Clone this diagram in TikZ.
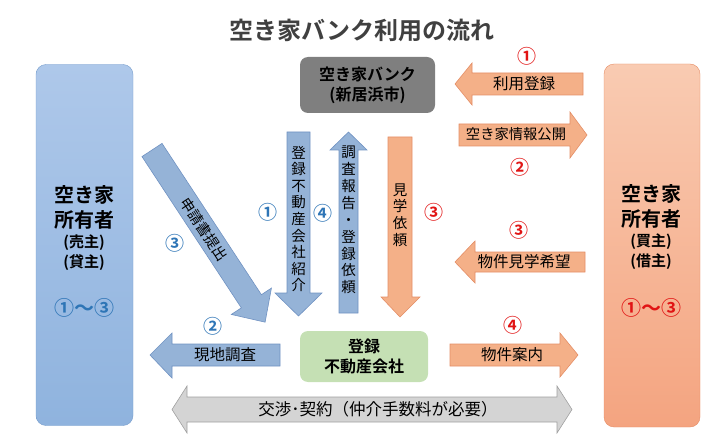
\documentclass[tikz,border=0pt]{standalone}
\usepackage{fontspec}
\setmainfont{Noto Sans CJK JP}[BoldFont={Noto Sans CJK JP Bold}]
\definecolor{ctitle}{RGB}{64,64,64}
\definecolor{cblue}{RGB}{46,117,182}
\definecolor{cred}{RGB}{225,20,20}
\definecolor{arblue}{RGB}{149,179,215}
\definecolor{arblueline}{RGB}{112,146,194}
\definecolor{arsalmon}{RGB}{244,176,136}
\definecolor{arsalmonline}{RGB}{228,142,102}
\definecolor{argray}{RGB}{212,212,212}
\definecolor{argrayline}{RGB}{160,160,160}
\definecolor{cbank}{RGB}{127,127,127}
\definecolor{cagent}{RGB}{197,224,180}

\begin{document}
\begin{tikzpicture}[x=1pt,y=-1pt,
  box/.style={rounded corners=10pt, inner sep=0pt},
  bluearrow/.style={fill=arblue, draw=arblueline, line width=0.6pt},
  salmonarrow/.style={fill=arsalmon, draw=arsalmonline, line width=0.6pt},
  grayarrow/.style={fill=argray, draw=argrayline, line width=0.6pt},
  artext/.style={inner sep=0pt, font=\fontsize{15.5}{17}\selectfont},
  vtext/.style={inner sep=0pt, align=center, font=\fontsize{14.5}{16.6}\selectfont},
  numb/.style={inner sep=0pt, text=cblue, font=\bfseries\fontsize{19}{20}\selectfont},
  numr/.style={inner sep=0pt, text=cred, font=\bfseries\fontsize{19}{20}\selectfont},
  ownername/.style={inner sep=0pt, align=center, font=\bfseries\fontsize{20}{25}\selectfont},
  ownerrole/.style={inner sep=0pt, align=center, font=\bfseries\fontsize{15}{20}\selectfont}]
\useasboundingbox (0,0) rectangle (720,441);

\node[font=\bfseries\fontsize{24}{28}\selectfont, text=ctitle] (title) at (362,30) {空き家バンク利用の流れ};

% owners
\node[box, minimum width=97pt, minimum height=361pt, draw={rgb,255:red,120;green,158;blue,205},
  top color={rgb,255:red,174;green,200;blue,234}, bottom color={rgb,255:red,143;green,179;blue,222}] (seller) at (84.5,245) {};
\node[ownername] (sellername) at (84,207.5) {空き家\\所有者};
\node[ownerrole] (sellerrole) at (84,253) {(売主)\\(貸主)};
\node[numb, font=\bfseries\fontsize{20}{22}\selectfont] (sellernum) at (84,308) {①～③};

\node[box, minimum width=96pt, minimum height=363pt, draw={rgb,255:red,230;green,140;blue,100},
  top color={rgb,255:red,249;green,203;blue,178}, bottom color={rgb,255:red,244;green,164;blue,128}] (buyer) at (652,245.5) {};
\node[ownername] (buyername) at (651,206.5) {空き家\\所有者};
\node[ownerrole] (buyerrole) at (651,251.5) {(買主)\\(借主)};
\node[numr, font=\bfseries\fontsize{20}{22}\selectfont] (buyernum) at (651,308) {①～③};

% bank and agent
\node[box, rounded corners=8pt, fill=cbank, minimum width=135pt, minimum height=56pt,
  align=center, font=\bfseries\fontsize{16}{20}\selectfont] (bank) at (367.5,85) {空き家バンク\\(新居浜市)};
\node[box, rounded corners=8pt, fill=cagent, minimum width=128pt, minimum height=51pt,
  align=center, font=\bfseries\fontsize{16}{20}\selectfont] (agent) at (364,356.5) {登録\\不動産会社};

% buyer side arrows
\filldraw[salmonarrow] (455,84) -- (472,63) -- (472,73) -- (583,73) -- (583,95) -- (472,95) -- (472,105) -- cycle;
\node[artext] (register) at (524,84) {利用登録};
\node[numr] (n1r) at (527,56) {①};

\filldraw[salmonarrow] (459,124) -- (570,124) -- (570,112) -- (587,135) -- (570,158) -- (570,146) -- (459,146) -- cycle;
\node[artext, font=\fontsize{14.3}{16}\selectfont] (publish) at (516,134.5) {空き家情報公開};
\node[numr] (n2r) at (520,167) {②};

\filldraw[salmonarrow] (455,262) -- (475,241) -- (475,252) -- (585,252) -- (585,272) -- (475,272) -- (475,283) -- cycle;
\node[artext] (visitwish) at (524,262) {物件見学希望};
\node[numr] (n3r) at (519,230) {③};

\filldraw[salmonarrow] (450,344) -- (560,344) -- (560,333) -- (578,355) -- (560,377) -- (560,366) -- (450,366) -- cycle;
\node[artext] (guide) at (512,354.5) {物件案内};
\node[numr] (n4r) at (513,325) {④};

% vertical arrows
\filldraw[bluearrow] (287,132) -- (310,132) -- (310,293) -- (322,293) -- (298.5,316) -- (275,293) -- (287,293) -- cycle;
\node[vtext] (introduce) at (298.5,219) {登\\録\\不\\動\\産\\会\\社\\紹\\介};
\node[numb] (n1b) at (268,212) {①};

\filldraw[bluearrow] (339,313) -- (339,150) -- (330,150) -- (348.5,132) -- (367,150) -- (358,150) -- (358,313) -- cycle;
\node[vtext, font=\fontsize{14.5}{16.9}\selectfont] (report) at (348.5,220) {調\\査\\報\\告\\・\\登\\録\\依\\頼};
\node[numb] (n4b) at (323,213) {④};

\filldraw[salmonarrow] (388,137) -- (412,137) -- (412,297) -- (420,297) -- (400,317) -- (381,297) -- (388,297) -- cycle;
\node[vtext] (visitreq) at (400,215) {見\\学\\依\\頼};
\node[numr] (n3m) at (434,212) {③};

% application arrow
\begin{scope}[shift={(152,150)}, rotate=-56.7]
  \filldraw[bluearrow] (0,-12) -- (181,-12) -- (181,-24) -- (206,0) -- (181,24) -- (181,12) -- (0,12) -- cycle;
  \node[artext, font=\fontsize{14.5}{16}\selectfont, rotate=-56.7] (apply) at (95,0) {申請書提出};
\end{scope}
\node[numb] (n3b) at (175,243) {③};

% survey arrow
\filldraw[bluearrow] (150,355) -- (172,333) -- (172,344) -- (280,344) -- (280,366) -- (172,366) -- (172,378) -- cycle;
\node[artext] (survey) at (225,355) {現地調査};
\node[numb] (n2b) at (213,326) {②};

% negotiation
\filldraw[grayarrow] (172,409.5) -- (187,386) -- (187,397) -- (557,397) -- (557,386) -- (572,409.5) -- (557,433) -- (557,422) -- (187,422) -- (187,433) -- cycle;
\node[artext, font=\fontsize{16.5}{18}\selectfont] (contract) at (378,409) {交渉･契約（仲介手数料が必要）};
\end{tikzpicture}
\end{document}
